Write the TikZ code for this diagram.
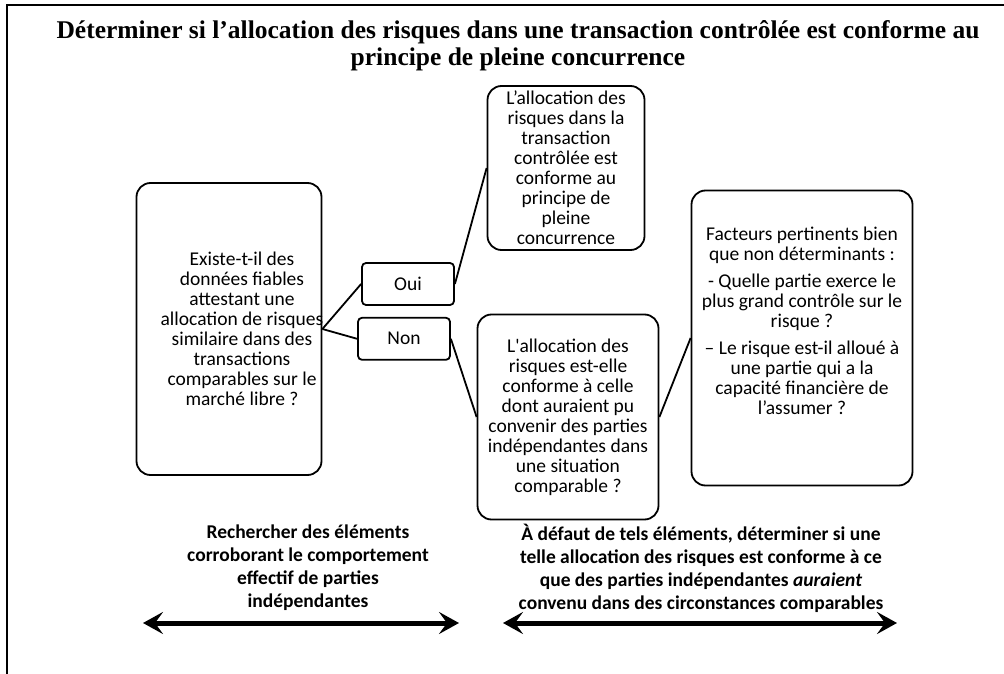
\documentclass[tikz,border=0pt]{standalone}
\usepackage{fontspec}
\setmainfont{Carlito}
\newfontfamily\titlefont{Liberation Serif}
\usetikzlibrary{positioning,arrows.meta}

\begin{document}
\begin{tikzpicture}[
  x=1pt, y=-1pt,
  box/.style={
        draw,
        line width=1.8pt,
        rounded corners=14pt,
        align=center,
        inner sep=0pt,
        font=\fontsize{19.5}{20}\selectfont
  },
  answer/.style={
        draw,
        line width=1.8pt,
        rounded corners=4pt,
        minimum width=92pt,
        minimum height=42pt,
        font=\fontsize{19.5}{20}\selectfont
  },
  link/.style={line width=1.8pt},
  span/.style={line width=5pt, {Stealth[length=20pt,width=22pt,inset=8pt]}-{Stealth[length=20pt,width=22pt,inset=8pt]}},
  note/.style={align=center, inner sep=0pt, font=\bfseries\fontsize{19.5}{23}\selectfont}
]

    \useasboundingbox (0,0) rectangle (1004,674);
    \draw[line width=2.5pt] (1004,5) -- (7,5) -- (7,674);

    \node[align=center, inner sep=0pt, font=\titlefont\bfseries\fontsize{25.5}{27}\selectfont] (titre) at (518,46)
        {Déterminer si l’allocation des risques dans une transaction contrôlée est conforme au\\
         principe de pleine concurrence};

    \node[box, minimum width=185pt, minimum height=292pt,
          label={[align=center, xshift=13pt, font=\fontsize{19.5}{20}\selectfont]center:{Existe-t-il des\\
          données fiables\\ attestant une\\ allocation de risques\\ similaire dans des\\
          transactions\\ comparables sur le\\ marché libre ?}}] (question) at (229,329) {};

    \node[answer] (oui) at (408,284) {Oui};
    \node[answer, below=11pt of oui, xshift=-4pt] (non) {Non};

    \node[box, minimum width=157pt, minimum height=164pt] (conforme) at (566,168)
        {L’allocation des\\ risques dans la\\ transaction\\ contrôlée est\\ conforme au\\
         principe de\\ pleine\\ concurrence};

    \node[box, minimum width=181pt, minimum height=205pt] (alloc) at (568,417)
        {L\textquotesingle allocation des\\ risques est-elle\\ conforme à celle\\ dont auraient pu\\
         convenir des parties\\ indépendantes dans\\ une situation\\ comparable ?};

    \node[box, minimum width=221pt, minimum height=295pt] (facteurs) at (802,338)
        {Facteurs pertinents bien\\ que non déterminants :\\[7pt]
         - Quelle partie exerce le\\ plus grand contrôle sur le\\ risque ?\\[7pt]
         – Le risque est-il alloué à\\ une partie qui a la\\ capacité financière de\\
         l’assumer ?\\[14pt]};

    \draw[link] (question.east) -- (oui.west);
    \draw[link] (question.east) -- (non.west);
    \draw[link] (oui.east) -- (conforme.west);
    \draw[link] (non.east) -- (alloc.west);
    \draw[link] (alloc.east) -- (facteurs.west);

    % bottom arrows
    \coordinate (R_1) at (143,623);
    \coordinate (R_2) at (459,623);
    \coordinate (D_1) at (503,623);
    \coordinate (D_2) at (897,623);

    \node[note] (recherche) at (308,568)
        {Rechercher des éléments\\ corroborant le comportement\\ effectif de parties\\ indépendantes};
    \node[note] (defaut) at (701,568)
        {À défaut de tels éléments, déterminer si une\\ telle allocation des risques est conforme à ce\\
         que des parties indépendantes \textit{auraient}\\ convenu dans des circonstances comparables};

    \draw[span] (R_1) -- (R_2);
    \draw[span] (D_1) -- (D_2);
\end{tikzpicture}
\end{document}
